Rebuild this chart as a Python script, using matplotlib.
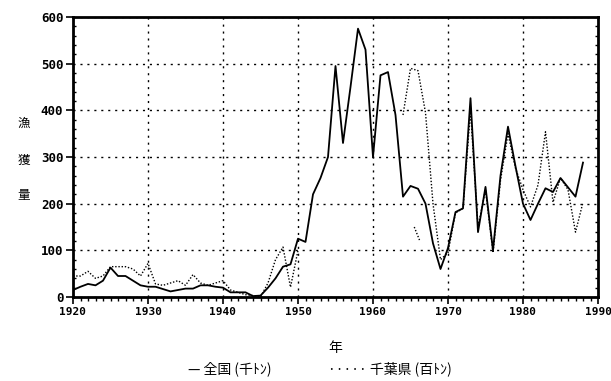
import numpy as np
import matplotlib
matplotlib.use("Agg")
import matplotlib.pyplot as plt
from matplotlib.ticker import MultipleLocator

plt.rcParams['font.family'] = ['Noto Sans CJK JP', 'DejaVu Sans']

years = np.arange(1920, 1989)

# 全国 (千トン)
zenkoku = [15, 22, 28, 25, 35, 63, 45, 45, 35, 25,
           22, 22, 17, 12, 15, 18, 18, 25, 25, 22,
           20, 10, 10, 10, 2, 3, 20, 40, 65, 70,
           125, 118, 220, 255, 300, 495, 330, 450, 575, 530,
           300, 475, 482, 390, 215, 238, 232, 200, 115, 60,
           105, 182, 190, 426, 139, 236, 100, 260, 365, 280,
           200, 165, 200, 233, 225, 255, 235, 215, 288]

# 千葉県 (百トン)
nan = np.nan
chiba = [45, 45, 55, 40, 45, 65, 65, 65, 60, 45,
         72, 28, 25, 30, 35, 25, 48, 30, 25, 30,
         35, 15, 10, 5, 3, 0, 30, 80, 107, 21,
         100, nan, nan, nan, nan, nan, nan, nan, nan, nan,
         nan, nan, nan, nan, 390, 490, 485, 395, 200, 80,
         95, 180, 190, 400, 150, 230, 95, 250, 350, 276,
         230, 193, 240, 354, 203, 255, 230, 139, 203]

# 千葉県 の短い断片
frag_years = [1965.5, 1966.2]
frag_vals = [150, 122]

fig = plt.figure(figsize=(6.11, 3.81), dpi=100)
ax = fig.add_axes([73/611, 84/381, 525/611, 280/381])

ax.plot(years, zenkoku, color='black', lw=1.3)
ax.plot(years, chiba, color='black', lw=1.0, linestyle=(0, (1, 1.3)))
ax.plot(frag_years, frag_vals, color='black', lw=1.0, linestyle=(0, (1, 1.3)))

ax.set_xlim(1920, 1990)
ax.set_ylim(0, 600)
ax.xaxis.set_major_locator(MultipleLocator(10))
ax.xaxis.set_minor_locator(MultipleLocator(1))
ax.yaxis.set_major_locator(MultipleLocator(100))
ax.yaxis.set_minor_locator(MultipleLocator(20))
ax.grid(True, which='major', color='black', linestyle=(0, (1.5, 3.5)), lw=1.0)

ax.tick_params(axis='x', which='major', direction='out', length=5, width=1.2, pad=2)
ax.tick_params(axis='x', which='minor', direction='out', length=3, width=1)
ax.tick_params(axis='y', which='major', direction='out', length=5, width=1.2, pad=2)
ax.tick_params(axis='y', which='minor', direction='in', length=2, width=1, right=True)
for lab in ax.get_xticklabels():
    lab.set_family('DejaVu Sans Mono')
    lab.set_fontweight('bold')
    lab.set_fontsize(8)
for lab in ax.get_yticklabels():
    lab.set_family('DejaVu Sans Mono')
    lab.set_fontweight('bold')
    lab.set_fontsize(9)
for s in ax.spines.values():
    s.set_linewidth(2)

fig.text(24/611, 1 - 123/381, '漁', fontsize=9, ha='center', va='center')
fig.text(24/611, 1 - 160/381, '獲', fontsize=9, ha='center', va='center')
fig.text(24/611, 1 - 195/381, '量', fontsize=9, ha='center', va='center')

fig.text(335/611, 1 - 348/381, '年', fontsize=10, ha='center', va='center')
fig.text(188/611, 1 - 369/381, '— 全国 (千ﾄﾝ)', fontsize=10, ha='left', va='center')
fig.text(328/611, 1 - 369/381, '····· 千葉県 (百ﾄﾝ)', fontsize=10, ha='left', va='center')

fig.savefig('out.png', dpi=100)
